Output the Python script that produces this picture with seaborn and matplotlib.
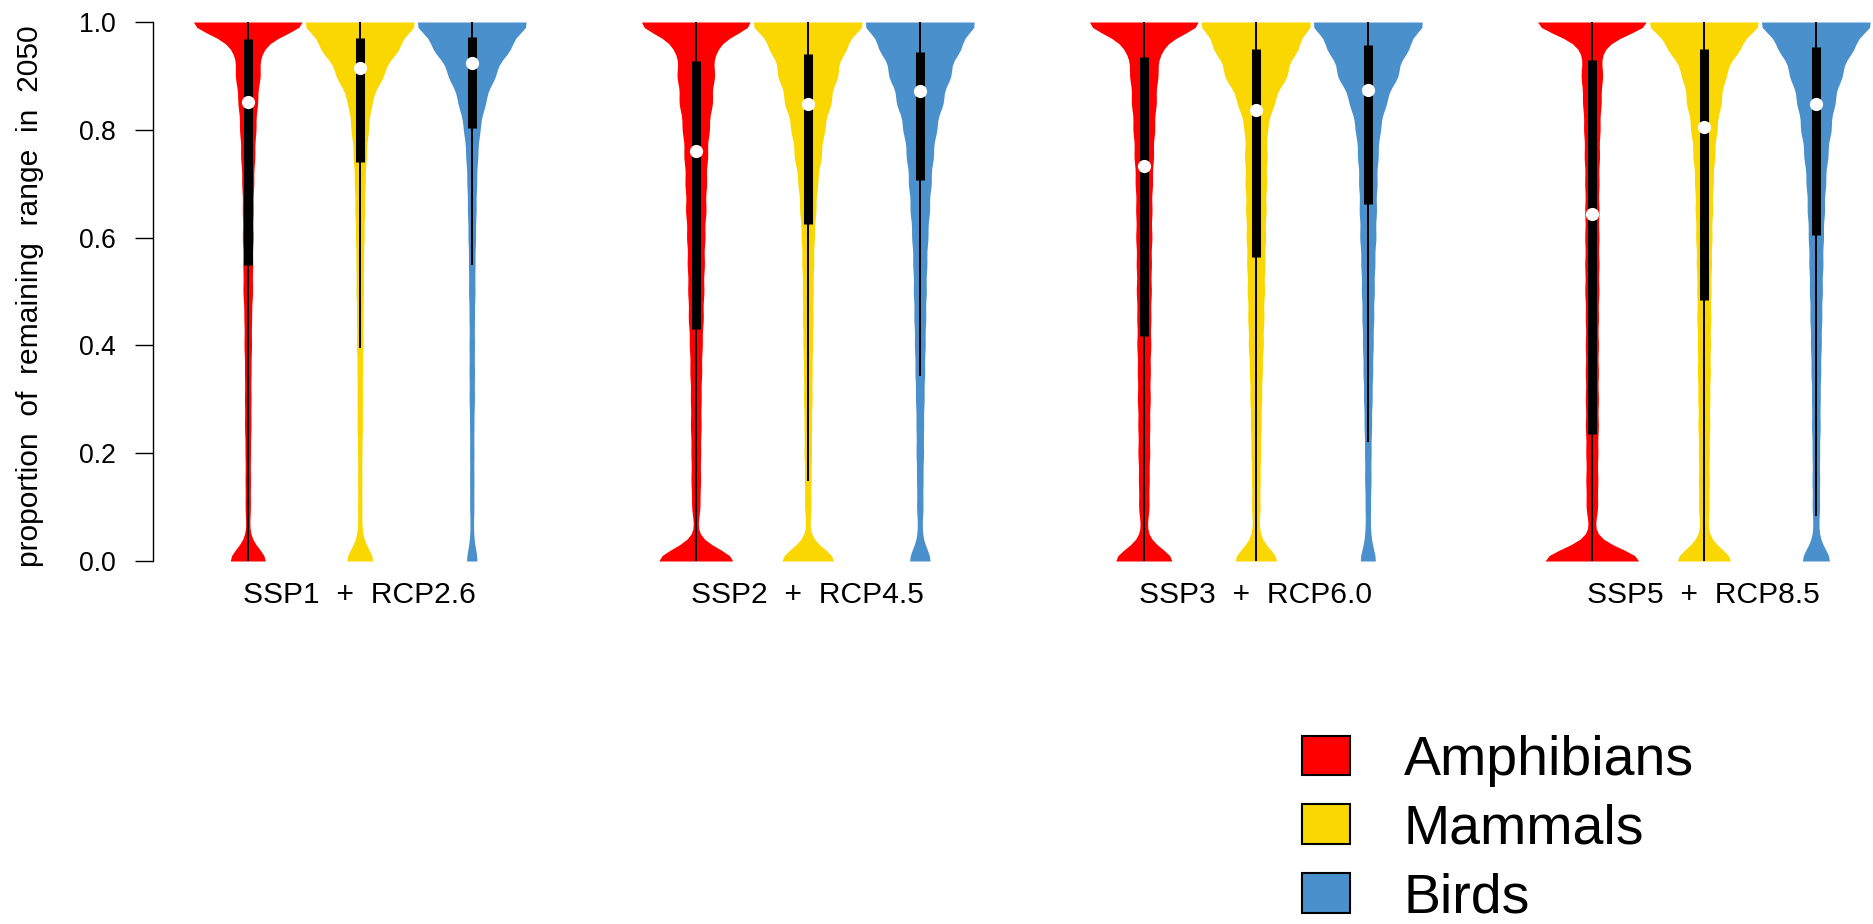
import numpy as np
import seaborn as sns
import matplotlib.pyplot as plt
from matplotlib.patches import Patch

scenarios = ['SSP1  +  RCP2.6', 'SSP2  +  RCP4.5', 'SSP3  +  RCP6.0', 'SSP5  +  RCP8.5']
taxa = ['Amphibians', 'Mammals', 'Birds']
colors = ['#FF0000', '#FAD700', '#4A90CC']

# proportion levels (bottom -> top) at which the violin widths were read
levels = [0.00, 0.05, 0.10, 0.15, 0.20, 0.25, 0.30, 0.35, 0.40, 0.45, 0.50,
          0.55, 0.60, 0.65, 0.70, 0.75, 0.80, 0.85, 0.90, 0.95, 1.00]

# relative number of species at each level
amph_ssp1 = [38, 3, 5, 5, 5, 6, 6, 6, 7, 7, 9, 9, 10, 10, 11, 13, 15, 18, 23, 25, 116]
amph_ssp2 = [81, 2, 8, 9, 9, 10, 10, 11, 12, 14, 15, 16, 17, 19, 20, 22, 25, 31, 35, 36, 116]
amph_ssp3 = [61, 5, 10, 10, 11, 11, 12, 12, 13, 13, 14, 14, 15, 15, 16, 18, 20, 23, 26, 31, 116]
amph_ssp5 = [101, 4, 11, 11, 11, 12, 12, 12, 12, 12, 13, 13, 13, 13, 13, 14, 15, 17, 20, 18, 116]

mamm_ssp1 = [28, 4, 4, 4, 4, 5, 5, 5, 6, 6, 7, 7, 8, 9, 10, 12, 16, 22, 43, 71, 112]
mamm_ssp2 = [56, 3, 6, 6, 7, 7, 8, 8, 9, 10, 10, 11, 12, 15, 18, 25, 31, 43, 55, 69, 112]
mamm_ssp3 = [45, 6, 8, 8, 9, 10, 11, 12, 14, 15, 16, 17, 18, 19, 20, 21, 21, 34, 58, 77, 112]
mamm_ssp5 = [57, 7, 10, 10, 10, 11, 11, 12, 12, 13, 13, 14, 15, 16, 17, 20, 24, 32, 40, 65, 112]

bird_ssp1 = [11, 3, 4, 4, 4, 4, 5, 5, 5, 5, 6, 6, 7, 8, 9, 11, 15, 25, 43, 70, 112]
bird_ssp2 = [22, 4, 6, 6, 7, 7, 8, 9, 10, 11, 12, 13, 15, 18, 21, 25, 31, 43, 57, 74, 112]
bird_ssp3 = [16, 5, 5, 6, 6, 7, 8, 9, 10, 11, 12, 13, 15, 16, 17, 19, 23, 34, 56, 74, 112]
bird_ssp5 = [29, 5, 7, 7, 7, 8, 8, 9, 10, 11, 12, 13, 14, 16, 18, 22, 28, 35, 48, 68, 112]

# box statistics per scenario
q1_amph = [0.550, 0.431, 0.417, 0.236]
med_amph = [0.852, 0.760, 0.733, 0.644]
q3_amph = [0.969, 0.928, 0.935, 0.930]
lo_amph = [0.0, 0.0, 0.0, 0.0]

q1_mamm = [0.741, 0.625, 0.564, 0.485]
med_mamm = [0.914, 0.847, 0.837, 0.806]
q3_mamm = [0.970, 0.941, 0.950, 0.950]
lo_mamm = [0.395, 0.149, 0.0, 0.0]

q1_bird = [0.803, 0.706, 0.663, 0.604]
med_bird = [0.924, 0.872, 0.874, 0.847]
q3_bird = [0.972, 0.945, 0.957, 0.953]
lo_bird = [0.550, 0.344, 0.220, 0.083]

shapes = [[amph_ssp1, amph_ssp2, amph_ssp3, amph_ssp5],
          [mamm_ssp1, mamm_ssp2, mamm_ssp3, mamm_ssp5],
          [bird_ssp1, bird_ssp2, bird_ssp3, bird_ssp5]]
q1s = [q1_amph, q1_mamm, q1_bird]
meds = [med_amph, med_mamm, med_bird]
q3s = [q3_amph, q3_mamm, q3_bird]
los = [lo_amph, lo_mamm, lo_bird]

sns.set_style('ticks')
plt.rcParams['font.family'] = ['Liberation Sans', 'DejaVu Sans']
plt.rcParams.update({'text.color': 'black', 'axes.labelcolor': 'black',
                     'xtick.color': 'black', 'ytick.color': 'black',
                     'axes.edgecolor': 'black'})

fig = plt.figure(figsize=(18.73, 9.24), dpi=100)
ax = fig.add_axes([153 / 1873, 1 - 561 / 924, 1720 / 1873, 539 / 924])

for s in range(len(scenarios)):
    for t in range(len(taxa)):
        pos = 4 * s + t
        vals = np.repeat(levels, shapes[t][s])
        sns.violinplot(x=np.full(len(vals), pos), y=vals, native_scale=True, orient='x',
                       color=colors[t], saturation=1, width=0.97, cut=0, inner=None,
                       linewidth=0, density_norm='width', bw_method=0.023 / vals.std(), ax=ax)
        # inner box: whisker, interquartile bar, median dot
        ax.vlines(pos, los[t][s], 1.0, color='black', lw=1.4, capstyle='butt', zorder=4)
        ax.vlines(pos, q1s[t][s], q3s[t][s], color='black', lw=6.5, capstyle='butt', zorder=4)
        ax.plot(pos, meds[t][s], 'o', color='white', ms=9.5, mew=0, zorder=5)

ax.set_xlim(-0.846, 14.51)
ax.set_ylim(0, 1)
sns.despine(ax=ax, bottom=True)
ax.spines['left'].set_linewidth(1.0)
ax.set_yticks([0, 0.2, 0.4, 0.6, 0.8, 1.0])
ax.set_yticklabels(['0.0', '0.2', '0.4', '0.6', '0.8', '1.0'])
ax.tick_params(axis='y', length=13, width=1.0, labelsize=19.2, pad=14)
ax.set_xticks([1, 5, 9, 13])
ax.set_xticklabels(scenarios)
ax.tick_params(axis='x', length=0, labelsize=21.6, pad=14.7)
ax.set_xlabel('')
ax.set_ylabel('')

fig.text(30 / 1873, 1 - 296 / 924, 'proportion  of  remaining  range  in  2050',
         rotation=90, ha='center', va='center', fontsize=21.6)

handles = [Patch(facecolor=c, edgecolor='black', linewidth=1.5) for c in colors]
fig.legend(handles, taxa, loc='upper left', bbox_to_anchor=(1302 / 1873, 1 - 735 / 924),
           frameon=False, fontsize=40, handlelength=0.86, handleheight=0.72,
           handletextpad=0.97, labelspacing=0.3, borderpad=0, borderaxespad=0)

fig.savefig('out.png', dpi=100)
